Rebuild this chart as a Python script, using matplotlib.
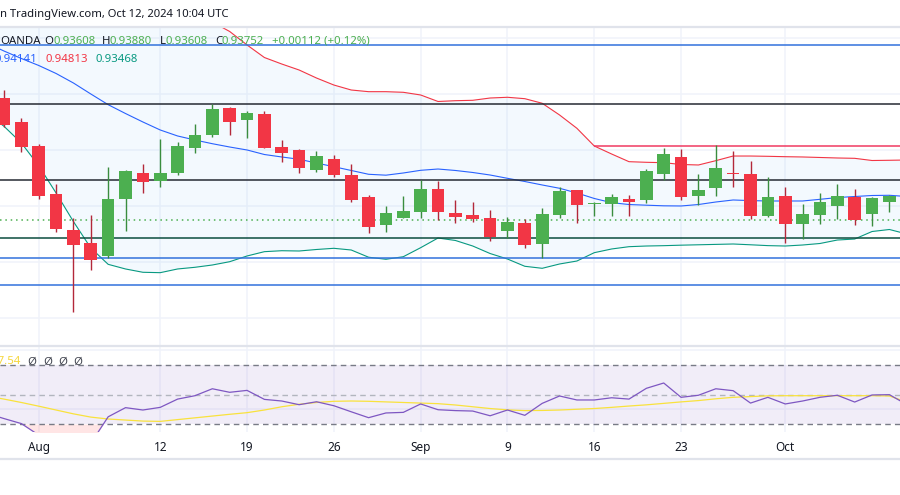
import numpy as np
import pandas as pd
import matplotlib
matplotlib.use("Agg")
import matplotlib.pyplot as plt

plt.rcParams['font.family'] = ['Noto Sans', 'DejaVu Sans']

# ------------------------------------------------------
# data (USD/CHF daily)
line_dates = pd.bdate_range('2024-07-29', '2024-10-10')
candle_dates = line_dates[1:53]

opens = [0.95932, 0.95504, 0.95075, 0.94218, 0.93575, 0.93343, 0.93116, 0.94134, 0.94593, 0.94455,
         0.94598, 0.95045, 0.95277, 0.95754, 0.95545, 0.95646, 0.95057, 0.95004, 0.94652, 0.94843,
         0.94557, 0.94164, 0.93670, 0.93795, 0.93902, 0.94307, 0.93879, 0.93843, 0.93789, 0.93563,
         0.93700, 0.93330, 0.93848, 0.94289, 0.94045, 0.94045, 0.94129, 0.94116, 0.94580, 0.94879,
         0.94188, 0.94330, 0.94588, 0.94575, 0.93830, 0.94182, 0.93688, 0.93848, 0.94009, 0.94164,
         0.93866, 0.94080]
highs = [0.96075, 0.95580, 0.95111, 0.94396, 0.93789, 0.93843, 0.94700, 0.94646, 0.94754, 0.95200,
         0.95146, 0.95468, 0.95820, 0.95771, 0.95695, 0.95695, 0.95182, 0.95021, 0.94986, 0.94914,
         0.94754, 0.94195, 0.94004, 0.94182, 0.94468, 0.94455, 0.94111, 0.94075, 0.93932, 0.93807,
         0.93771, 0.93968, 0.94343, 0.94289, 0.94075, 0.94218, 0.94200, 0.94664, 0.95039, 0.95021,
         0.94575, 0.95093, 0.94986, 0.94807, 0.94521, 0.94343, 0.94039, 0.94236, 0.94396, 0.94307,
         0.94164, 0.94195]
lows = [0.95423, 0.94973, 0.94129, 0.93539, 0.92116, 0.92861, 0.93070, 0.93563, 0.94241, 0.94348,
        0.94563, 0.94955, 0.95241, 0.95277, 0.95223, 0.95039, 0.94795, 0.94588, 0.94616, 0.94527,
        0.94080, 0.93527, 0.93545, 0.93795, 0.93795, 0.93754, 0.93705, 0.93723, 0.93384, 0.93427,
        0.93259, 0.93080, 0.93795, 0.93705, 0.93830, 0.93830, 0.93830, 0.94063, 0.94473, 0.94116,
        0.94021, 0.94188, 0.94348, 0.93777, 0.93813, 0.93348, 0.93420, 0.93688, 0.93777, 0.93670,
        0.93652, 0.93902]
closes = [0.95455, 0.95063, 0.94188, 0.93598, 0.93313, 0.93045, 0.94129, 0.94629, 0.94438, 0.94593,
          0.95075, 0.95271, 0.95736, 0.95509, 0.95664, 0.95045, 0.94955, 0.94688, 0.94896, 0.94563,
          0.94116, 0.93634, 0.93879, 0.93914, 0.94307, 0.93902, 0.93813, 0.93777, 0.93455, 0.93718,
          0.93313, 0.93861, 0.94271, 0.94027, 0.94063, 0.94164, 0.94080, 0.94629, 0.94932, 0.94170,
          0.94289, 0.94682, 0.94580, 0.93830, 0.94164, 0.93688, 0.93861, 0.94075, 0.94182, 0.93759,
          0.94146, 0.94182]

# bollinger bands (one value per line_dates entry)
bb_upper = [0.97504, 0.97468, 0.97468, 0.97468, 0.97504, 0.97539, 0.97575, 0.97575, 0.97539, 0.97504,
            0.97468, 0.97432, 0.97361, 0.97289, 0.97120, 0.96879, 0.96655, 0.96539, 0.96432, 0.96289,
            0.96164, 0.96075, 0.96045, 0.96045, 0.96034, 0.95986, 0.95870, 0.95884, 0.95891, 0.95932,
            0.95945, 0.95920, 0.95838, 0.95629, 0.95391, 0.95075, 0.94932, 0.94795, 0.94784, 0.94777,
            0.94745, 0.94736, 0.94813, 0.94896, 0.94896, 0.94891, 0.94884, 0.94879, 0.94870, 0.94861,
            0.94855, 0.94816, 0.94820, 0.94825]
bb_basis = [0.96914, 0.96771, 0.96638, 0.96513, 0.96370, 0.96200, 0.96004, 0.95813, 0.95655, 0.95504,
            0.95361, 0.95254, 0.95182, 0.95116, 0.95057, 0.95004, 0.94923, 0.94879, 0.94838, 0.94771,
            0.94705, 0.94638, 0.94570, 0.94554, 0.94593, 0.94641, 0.94664, 0.94638, 0.94602, 0.94557,
            0.94498, 0.94441, 0.94379, 0.94320, 0.94236, 0.94138, 0.94063, 0.94030, 0.94018, 0.94007,
            0.94004, 0.94030, 0.94075, 0.94111, 0.94100, 0.94093, 0.94093, 0.94093, 0.94123, 0.94154,
            0.94173, 0.94191, 0.94195, 0.94173]
bb_lower = [0.95664, 0.95427, 0.95129, 0.94723, 0.94236, 0.93725, 0.93254, 0.92962, 0.92879, 0.92820,
            0.92813, 0.92879, 0.92909, 0.92950, 0.93009, 0.93111, 0.93188, 0.93205, 0.93200, 0.93227,
            0.93248, 0.93218, 0.93089, 0.93052, 0.93098, 0.93259, 0.93432, 0.93388, 0.93289, 0.93155,
            0.93057, 0.92927, 0.92891, 0.92968, 0.93021, 0.93170, 0.93236, 0.93277, 0.93289, 0.93295,
            0.93304, 0.93311, 0.93318, 0.93325, 0.93311, 0.93296, 0.93289, 0.93307, 0.93334, 0.93396,
            0.93414, 0.93548, 0.93584, 0.93504]

# RSI and its moving average
rsi = [37.3, 33.7, 30.3, 22.5, 20.0, 16.0, 17.0, 34.9, 41.1, 39.5,
       41.3, 46.9, 49.2, 53.9, 51.5, 52.8, 46.7, 45.6, 43.1, 45.1,
       42.4, 38.3, 34.3, 37.5, 37.9, 43.6, 39.7, 39.1, 38.8, 35.6,
       39.5, 35.9, 44.0, 49.0, 46.3, 46.3, 47.8, 46.9, 54.2, 57.8,
       48.1, 49.5, 53.9, 52.6, 44.2, 48.1, 43.6, 45.6, 48.1, 49.5,
       44.9, 49.7, 49.9, 43.2]
rsi_ma = [49.0, 46.9, 44.6, 42.1, 39.5, 36.9, 34.7, 33.4, 32.7, 32.0,
          31.8, 33.0, 34.2, 35.4, 36.6, 37.7, 39.5, 41.7, 43.4, 44.6,
          45.4, 45.6, 45.4, 45.0, 44.6, 44.2, 43.8, 42.9, 41.7, 40.5,
          39.6, 39.1, 39.2, 39.5, 40.0, 40.5, 41.3, 42.2, 43.0, 44.0,
          45.0, 45.9, 47.1, 48.1, 48.6, 49.1, 49.2, 49.2, 49.2, 49.2,
          49.2, 49.2, 49.0, 44.9]

# drawn levels
levels = [0.96874, 0.95820, 0.94468, 0.93427, 0.93070, 0.92593]
pink_level = 0.95071
pink_start = '2024-09-16'
last_price = 0.93752

tick_dates = ['2024-08-01', '2024-08-12', '2024-08-19', '2024-08-26', '2024-09-02',
              '2024-09-09', '2024-09-16', '2024-09-23', '2024-10-01']
tick_labels = ['Aug', '12', '19', '26', 'Sep', '9', '16', '23', 'Oct']
price_grid = [0.92, 0.93, 0.94, 0.95, 0.96, 0.97]

# ------------------------------------------------------
W, H = 900, 495
fig = plt.figure(figsize=(W / 100, H / 100), dpi=100)

def fy(py):
    return 1 - py / H

GREEN, RED = '#4caf50', '#f23645'
GWICK, RWICK = '#3a8d3e', '#b3283a'
GRID = '#f0f3fa'

xk = np.arange(len(line_dates))
ck = np.array([line_dates.get_loc(d) for d in candle_dates])
tk = [line_dates.get_loc(pd.Timestamp(d)) for d in tick_dates]
xlim = (0.77, 52.61)

# main price panel
ax = fig.add_axes([0, fy(345.5), 1, (345.5 - 27.5) / H])
ax.set_xlim(*xlim)
ax.set_ylim(0.915125, 0.971911)
for s in ax.spines.values():
    s.set_visible(False)
ax.set_xticks([])
ax.set_yticks([])
for g in price_grid:
    ax.axhline(g, color=GRID, lw=1.1, zorder=0)
for t in tk:
    ax.axvline(t, color=GRID, lw=1.1, zorder=0)

ax.fill_between(xk, bb_lower, bb_upper, color='#2196f3', alpha=0.05, lw=0, zorder=1)
ax.plot(xk, bb_upper, color=RED, lw=0.8, zorder=2)
ax.plot(xk, bb_basis, color='#2962ff', lw=0.8, zorder=2)
ax.plot(xk, bb_lower, color='#089981', lw=0.8, zorder=2)

lvl_cols = ['#3272dc', '#262a33', '#262a33', '#0b4d3f', '#3272dc', '#3272dc']
for lv, c in zip(levels, lvl_cols):
    ax.axhline(lv, color=c, lw=1.1, zorder=3)
ax.hlines(pink_level, line_dates.get_loc(pd.Timestamp(pink_start)), xk[-1] + 1,
          color='#f03a62', lw=1.1, zorder=3)
ax.axhline(last_price, color=GREEN, lw=1.1, ls=(0, (1, 2.5)), zorder=3)

o = np.array(opens); c = np.array(closes)
up = c >= o
ax.vlines(ck, lows, highs, colors=np.where(up, GWICK, RWICK), lw=1.0, zorder=4)
body = np.maximum(np.abs(c - o), 0.00016)
ax.bar(ck, body, bottom=np.minimum(o, c), width=0.73,
       color=np.where(up, GREEN, RED), lw=0, zorder=5)

# RSI panel
ax2 = fig.add_axes([0, fy(432), 1, (432 - 347) / H])
ax2.set_xlim(*xlim)
ax2.set_ylim(24.6, 82.2)
for s in ax2.spines.values():
    s.set_visible(False)
ax2.set_yticks([])
for g in [40, 80]:
    ax2.axhline(g, color=GRID, lw=1.1, zorder=0)
for t in tk:
    ax2.axvline(t, color=GRID, lw=1.1, zorder=0)
ax2.axhspan(30, 70, color='#7e57c2', alpha=0.1, lw=0, zorder=1)
ax2.axhline(70, color='#787b86', lw=1, ls=(0, (4, 3)), zorder=2)
ax2.axhline(30, color='#787b86', lw=1, ls=(0, (4, 3)), zorder=2)
ax2.axhline(50, color='#b2b5be', lw=1, ls=(0, (4, 3)), zorder=2)
r = np.array(rsi)
ax2.fill_between(xk, r, 30, where=r < 30, interpolate=True, color='#ff5252', alpha=0.15, lw=0, zorder=1)
ax2.plot(xk, rsi_ma, color='#f9e23c', lw=0.9, zorder=3)
ax2.plot(xk, rsi, color='#7e57c2', lw=0.9, zorder=4)
ax2.set_xticks(tk)
ax2.set_xticklabels(tick_labels, fontsize=8.5, color='#131722')
ax2.tick_params(axis='x', length=0, pad=6.5)

# separators
for py in [26.7, 346.2, 459.3]:
    fig.add_artist(plt.Line2D([0, 1], [fy(py), fy(py)], transform=fig.transFigure,
                              color='#e0e3eb', lw=1.6))

# texts
fig.text(0.0, fy(14), 'n TradingView.com, Oct 12, 2024 10:04 UTC', fontsize=8.1, color='#131722', va='center')
row1 = [(0, 'OANDA', '#131722'), (44, 'O', '#131722'), (53, '0.93608', GREEN), (102, 'H', '#131722'),
        (110, '0.93880', GREEN), (160, 'L', '#131722'), (166, '0.93608', GREEN), (215, 'C', '#131722'),
        (222, '0.93752', GREEN), (272, '+0.00112 (+0.12%)', GREEN)]
for px, s, col in row1:
    fig.text(px / W, fy(41), s, fontsize=8.2, color=col, va='center')
fig.text(37 / W, fy(59), '0.94141', fontsize=8.2, color='#2962ff', va='center', ha='right')
fig.text(46 / W, fy(59), '0.94813', fontsize=8.2, color=RED, va='center')
fig.text(95 / W, fy(59), '0.93468', fontsize=8.2, color='#089981', va='center')
fig.text(21 / W, fy(362), '47.54', fontsize=8.2, color='#f5d63c', va='center', ha='right')
for px in [32, 48, 63, 78]:
    fig.text(px / W, fy(362), 'Ø', fontsize=8.2, color='#434651', va='center', ha='center')

fig.savefig('out.png', dpi=100, facecolor='white')
